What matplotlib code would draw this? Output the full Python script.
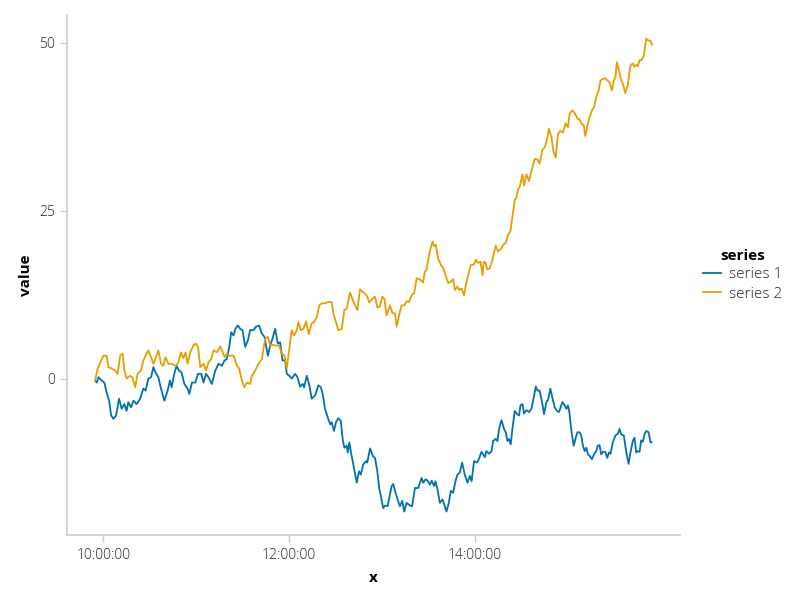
import numpy as np
import pandas as pd
import matplotlib
matplotlib.use("Agg")
import matplotlib.pyplot as plt
import matplotlib.dates as mdates

plt.rcParams['font.family'] = ['Open Sans', 'DejaVu Sans']

# minutes after 10:00 and values
s2_min = [-5.4, -3.7, 0.0, 2.1, 3.2, 5.4, 7.5, 9.2, 10.8, 12.5, 13.5, 15.0, 17.2, 18.7, 20.5, 22.1,
          24.3, 25.8, 29.0, 30.8, 32.3, 34.0, 35.5, 37.2, 38.7, 40.2, 41.9, 44.1, 46.6, 48.4, 50.1,
          51.6, 53.1, 54.4, 56.1, 58.3, 59.8, 61.1, 62.6, 64.7, 66.3, 67.9, 69.7, 71.2, 73.4, 75.5,
          76.6, 78.3, 79.8, 81.9, 84.1, 86.3, 87.7, 89.5, 91.0, 92.7, 94.8, 95.9, 98.1, 100.2, 102.4,
          104.5, 106.3, 107.7, 109.9, 111.4, 113.5, 115.3, 117.0, 118.5, 121.7, 123.2, 125.0, 126.0,
          127.5, 129.2, 131.0, 132.7, 134.6, 136.1, 137.9, 139.5, 141.1, 143.2, 145.4, 147.5, 148.6,
          150.3, 151.8, 154.0, 155.7, 157.2, 159.4, 161.1, 162.6, 164.1, 165.8, 167.5, 169.0, 170.5,
          171.8, 174.0, 175.5, 177.0, 178.7, 180.2, 181.5, 183.0, 185.2, 186.6, 188.4, 189.5, 191.0,
          192.7, 194.4, 195.9, 197.4, 199.2, 200.8, 202.4, 204.5, 206.6, 207.7, 208.8, 209.9, 211.2,
          212.7, 213.7, 214.8, 216.3, 218.1, 219.5, 221.1, 222.8, 224.5, 226.0, 227.1, 228.8, 229.7,
          231.4, 233.1, 234.0, 235.7, 237.4, 238.9, 240.0, 240.6, 242.1, 243.7, 245.0, 245.8, 247.1,
          247.9, 249.7, 251.4, 253.5, 255.0, 257.2, 258.3, 260.0, 261.5, 263.0, 264.3, 265.8, 266.9,
          267.9, 269.0, 270.8, 271.8, 273.4, 275.0, 276.6, 278.7, 280.5, 281.9, 283.7, 285.2, 286.6,
          287.9, 289.5, 291.0, 292.3, 293.7, 295.3, 297.0, 298.7, 300.2, 301.3, 302.8, 304.5, 306.3,
          307.7, 308.8, 310.5, 311.4, 312.7, 314.2, 315.7, 317.0, 318.5, 320.0, 321.3, 322.8, 324.3,
          325.6, 327.1, 328.6, 329.9, 330.8, 331.8, 332.9, 334.6, 335.7, 337.2, 338.9, 340.6, 342.1,
          343.2, 344.3, 345.4, 346.5, 347.9, 349.2, 350.8, 352.3, 353.5, 354.6]
s2_val = [-0.3, 1.5, 3.4, 3.4, 1.7, 1.5, 1.2, 0.7, 3.4, 3.7, 1.2, 0.0, 0.4, 0.2, -1.3, 0.7,
          1.2, 2.7, 4.2, 3.2, 2.2, 3.2, 4.2, 2.2, 1.9, 3.2, 2.2, 2.2, 1.9, 2.4, 3.9,
          3.0, 3.9, 2.2, 3.9, 5.0, 5.2, 4.7, 1.7, 2.2, 1.2, 2.4, 2.9, 4.2, 3.9, 4.8,
          4.2, 3.2, 3.7, 3.4, 3.4, 1.9, 1.5, -0.3, -1.3, -0.6, -0.8, 0.4, 1.2, 2.2, 2.9,
          5.9, 6.2, 4.9, 5.0, 4.9, 4.9, 3.7, 3.4, 1.5, 7.2, 6.4, 7.2, 8.4,
          7.2, 7.4, 8.5, 6.6, 8.2, 8.4, 9.2, 10.9, 11.2, 11.2, 11.4, 11.4, 9.7,
          8.4, 7.2, 7.4, 10.2, 10.4, 12.8, 11.7, 10.9, 10.2, 13.3, 12.9, 12.7, 12.2,
          11.3, 11.9, 12.2, 10.6, 10.7, 12.2, 11.9, 9.4, 10.9, 9.8, 9.7, 7.7, 9.4,
          10.9, 10.9, 11.5, 11.4, 12.4, 12.7, 14.9, 14.8, 14.3, 15.9, 16.2, 17.7, 19.2,
          20.4, 19.7, 19.9, 17.9, 16.9, 16.5, 15.4, 14.2, 14.4, 14.8, 13.2, 13.7, 13.2,
          13.4, 12.4, 13.7, 15.4, 16.9, 16.9, 17.2, 17.7, 17.2, 17.4, 15.4, 17.4, 17.2,
          16.3, 16.4, 17.7, 19.8, 18.9, 19.4, 19.9, 20.2, 21.4, 21.9, 24.1, 26.6, 26.9,
          28.2, 28.5, 30.4, 28.7, 30.4, 29.4, 30.9, 32.7, 32.6, 32.0, 34.1, 34.4, 35.6,
          37.2, 35.9, 33.6, 32.9, 36.4, 36.9, 36.6, 38.0, 37.4, 39.4, 39.9, 39.6, 38.7,
          38.6, 38.0, 37.6, 36.1, 37.6, 38.9, 39.9, 40.4, 41.9, 42.9, 44.4, 44.6, 44.7,
          44.4, 44.1, 42.9, 44.4, 44.7, 47.1, 46.1, 44.4, 43.9, 42.5, 43.7, 46.6, 46.9,
          46.4, 46.7, 46.5, 47.4, 47.4, 48.1, 50.6, 50.3, 50.3, 49.7]

s1_min = [-5.4, -4.3, -3.2, -1.1, 0.6, 2.1, 3.7, 5.0, 6.5, 8.2, 10.1, 11.8, 13.5, 15.0, 16.1, 17.9,
          19.4, 21.5, 23.7, 25.8, 27.3, 29.0, 30.8, 32.3, 33.7, 35.5, 37.2, 39.4, 41.5, 43.0, 44.1,
          45.8, 47.3, 48.8, 50.5, 52.3, 54.4, 55.5, 57.2, 59.4, 61.1, 63.2, 64.7, 66.3, 67.9, 70.1,
          72.3, 74.4, 76.6, 78.3, 79.8, 81.3, 82.6, 84.1, 85.2, 86.9, 88.4, 89.9, 91.6, 93.4, 94.8,
          97.0, 98.5, 100.6, 102.4, 104.1, 106.3, 107.7, 109.2, 111.0, 112.7, 114.2, 115.7, 117.4,
          118.5, 120.2, 121.7, 123.9, 125.4, 127.1, 128.8, 129.7, 131.4, 133.1, 134.6, 136.8, 138.9,
          140.5, 141.7, 143.2, 145.0, 146.5, 147.5, 149.0, 150.3, 151.8, 153.4, 154.6, 155.7, 157.2,
          157.9, 158.9, 160.0, 161.5, 163.7, 165.2, 166.3, 167.9, 169.7, 170.5, 172.3, 174.0, 175.5,
          177.0, 178.3, 178.7, 180.8, 181.9, 183.7, 184.5, 186.3, 187.3, 188.8, 190.5, 191.6, 193.1,
          194.4, 195.9, 198.1, 199.5, 201.3, 203.4, 205.6, 206.6, 208.2, 209.5, 211.0, 212.1, 213.7,
          214.6, 215.9, 217.4, 219.2, 220.6, 221.7, 223.2, 224.5, 226.0, 227.5, 228.8, 230.3, 231.8,
          233.5, 235.3, 236.8, 237.9, 239.5, 241.5, 242.8, 244.3, 245.4, 246.5, 247.5, 249.2, 250.8,
          251.8, 253.5, 254.6, 255.7, 257.2, 258.9, 260.0, 261.1, 262.1, 263.2, 264.3, 265.8, 267.3,
          268.6, 269.5, 270.8, 271.8, 273.4, 275.0, 276.6, 278.1, 279.4, 280.5, 281.9, 283.7, 284.7,
          286.3, 287.3, 288.8, 290.1, 291.6, 293.1, 294.4, 296.6, 298.1, 299.2, 300.2, 301.1, 302.4,
          303.9, 305.0, 306.3, 307.7, 308.8, 309.9, 311.0, 312.1, 313.1, 314.2, 315.7, 317.0, 318.5,
          319.5, 320.6, 321.7, 322.8, 324.3, 325.6, 326.7, 327.7, 329.2, 330.8, 332.5, 333.5, 334.6,
          336.3, 337.9, 339.4, 340.6, 342.1, 343.2, 344.3, 345.4, 346.5, 347.5, 348.6, 349.7, 350.8,
          352.3, 353.5, 354.3]
s1_val = [-0.3, -0.6, 0.2, -0.3, -0.6, -2.1, -3.3, -5.5, -6.0, -5.5, -3.0, -4.5, -3.8, -4.8, -3.5, -4.3,
          -3.3, -3.8, -3.0, -1.5, -1.8, 0.0, 0.2, 1.7, 0.9, 0.2, -1.5, -3.3, -1.8, -0.3, -1.3,
          0.7, 1.9, 1.2, 0.9, -0.8, -1.5, -2.3, -0.6, -0.6, 0.7, 0.7, -0.6, 0.7, 0.2, -0.8,
          1.2, 2.2, 1.9, 2.7, 2.9, 4.7, 6.9, 6.4, 7.4, 7.9, 7.4, 7.2, 4.7, 5.7, 7.2,
          7.2, 7.7, 7.9, 6.7, 6.2, 3.4, 4.9, 5.9, 7.4, 5.2, 5.4, 2.7, 2.7,
          0.7, 0.4, 0.0, 0.7, 0.2, -1.2, -0.8, -1.3, 0.4, -1.0, -3.0, -2.5, -1.0,
          -1.3, -2.3, -4.5, -5.8, -6.8, -6.5, -7.8, -6.5, -5.9, -6.3, -9.0, -10.3, -10.0,
          -11.0, -9.5, -11.0, -12.8, -15.5, -13.8, -14.3, -12.8, -12.3, -12.5, -10.4, -11.5, -11.8,
          -13.8, -16.5, -16.8, -19.3, -18.9, -19.0, -18.0, -16.0, -15.7, -17.0, -18.3, -19.0, -18.2,
          -19.8, -18.5, -18.9, -19.0, -16.3, -16.3, -14.8, -15.5, -15.0, -15.2, -15.8, -15.2, -16.0,
          -15.3, -16.5, -18.5, -18.0, -19.0, -19.8, -18.5, -16.7, -17.0, -15.3, -14.3, -14.0, -12.5,
          -14.3, -15.5, -14.5, -15.3, -12.3, -12.5, -11.9, -10.9, -11.3, -11.7, -10.8, -11.2, -10.8,
          -9.3, -9.0, -9.3, -7.5, -6.2, -7.5, -8.0, -9.3, -9.0, -9.8, -7.5, -4.8, -5.3,
          -5.5, -4.0, -3.8, -5.2, -4.7, -5.0, -4.5, -2.8, -1.2, -1.8, -1.8, -3.8, -5.3,
          -3.5, -3.2, -1.5, -2.8, -4.3, -4.8, -5.0, -3.5, -4.0, -4.5, -4.0, -5.0, -7.8,
          -10.0, -9.0, -8.0, -8.0, -8.5, -10.0, -10.8, -10.3, -11.3, -11.5, -12.0, -11.3, -10.8,
          -10.0, -9.9, -11.3, -10.9, -10.9, -11.8, -11.0, -11.2, -9.5, -8.5, -8.2, -7.5, -8.3,
          -8.5, -11.0, -12.7, -11.0, -9.3, -8.8, -11.0, -10.8, -10.9, -9.2, -9.4, -8.3, -7.8,
          -8.0, -9.5, -9.5]

series_names = ["series 1", "series 2"]
colors = ["#0072B2", "#E69F00"]
x_ticks = ["10:00:00", "12:00:00", "14:00:00"]
y_ticks = [0, 25, 50]

base = pd.Timestamp("2024-01-01 10:00:00")
t1 = base + pd.to_timedelta(s1_min, unit="min")
t2 = base + pd.to_timedelta(s2_min, unit="min")

fig = plt.figure(figsize=(8, 6), dpi=100)
ax = fig.add_axes([0.084, 0.108, 0.766, 0.867])

ax.plot(t1, s1_val, color=colors[0], lw=1.3, label=series_names[0])
ax.plot(t2, s2_val, color=colors[1], lw=1.3, label=series_names[1])

ax.margins(x=0.05, y=0.05)
ax.set_xticks([base + pd.Timedelta(hours=2 * i) for i in range(len(x_ticks))])
ax.set_xticklabels(x_ticks)
ax.set_yticks(y_ticks)

for side in ["top", "right"]:
    ax.spines[side].set_visible(False)
for side in ["left", "bottom"]:
    ax.spines[side].set_color("#cccccc")
    ax.spines[side].set_linewidth(1.2)
ax.tick_params(axis="both", colors="#cccccc", length=5, width=1, labelcolor="#222222",
               labelsize=10, pad=4)
for lab in ax.get_xticklabels() + ax.get_yticklabels():
    lab.set_fontweight(300)

ax.set_xlabel("x", fontsize=11, fontweight="bold", labelpad=6)
ax.set_ylabel("value", fontsize=11, fontweight="bold", labelpad=4)

leg = ax.legend(title="series", loc="center left", bbox_to_anchor=(1.015, 0.5), frameon=False,
                fontsize=11, title_fontproperties={"weight": "bold", "size": 11},
                handlelength=1.2, handletextpad=0.5, labelspacing=0.3)
for t in leg.get_texts():
    t.set_color("#222222")
    t.set_fontweight(300)

fig.savefig("out.png", dpi=100)
